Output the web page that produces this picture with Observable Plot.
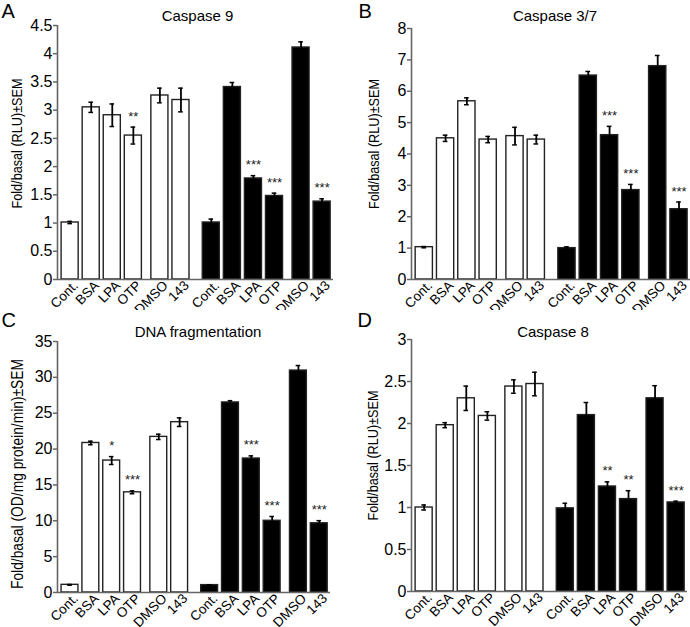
<!DOCTYPE html>
<html>
<head>
<meta charset="utf-8">
<script src="https://cdn.jsdelivr.net/npm/d3@7"></script>
<script src="https://cdn.jsdelivr.net/npm/@observablehq/plot@0.6"></script>
<style>
  html, body { margin: 0; padding: 0; background: #fff; }
  #grid { position: relative; width: 690px; height: 627px; overflow: hidden; font-family: "Liberation Sans", Arial, Helvetica, sans-serif; }
  .panel { position: absolute; }
</style>
</head>
<body>
<div id="grid"></div>
<script>
// ---------- data ----------
const treatments = ["Cont.", "BSA", "LPA", "OTP", "DMSO", "143"];
const groupFills = ["white", "black"];

const panelLetters = ["A", "B", "C", "D"];
const panelTitles = ["Caspase 9", "Caspase 3/7", "DNA fragmentation", "Caspase 8"];
const yLabels = [
  "Fold/basal (RLU)±SEM",
  "Fold/basal (RLU)±SEM",
  "Fold/basal (OD/mg protein/min)±SEM",
  "Fold/basal (RLU)±SEM"
];

// Caspase 9 (white group then black group)
const casp9Mean = [1.01, 3.05, 2.91, 2.55, 3.26, 3.18, 1.01, 3.41, 1.79, 1.48, 4.11, 1.38];
const casp9Sem  = [0.02, 0.09, 0.20, 0.15, 0.13, 0.21, 0.06, 0.08, 0.05, 0.05, 0.10, 0.05];
const casp9Sig  = ["", "", "", "**", "", "", "", "", "***", "***", "", "***"];
const casp9Ticks = [0, 0.5, 1, 1.5, 2, 2.5, 3, 3.5, 4, 4.5];

// Caspase 3/7
const casp37Mean = [1.03, 4.50, 5.68, 4.46, 4.57, 4.46, 1.00, 6.50, 4.60, 2.85, 6.80, 2.24];
const casp37Sem  = [0.02, 0.10, 0.11, 0.10, 0.28, 0.14, 0.04, 0.13, 0.28, 0.18, 0.34, 0.23];
const casp37Sig  = ["", "", "", "", "", "", "", "", "***", "***", "", "***"];
const casp37Ticks = [0, 1, 2, 3, 4, 5, 6, 7, 8];

// DNA fragmentation
const dnaMean = [1.07, 20.85, 18.40, 13.97, 21.70, 23.75, 1.03, 26.50, 18.68, 10.00, 30.95, 9.65];
const dnaSem  = [0.05, 0.25, 0.55, 0.20, 0.37, 0.60, 0.05, 0.25, 0.37, 0.60, 0.70, 0.37];
const dnaSig  = ["", "", "*", "***", "", "", "", "", "***", "***", "", "***"];
const dnaTicks = [0, 5, 10, 15, 20, 25, 30, 35];

// Caspase 8
const casp8Mean = [1.00, 1.98, 2.30, 2.09, 2.44, 2.47, 0.99, 2.10, 1.25, 1.10, 2.30, 1.06];
const casp8Sem  = [0.03, 0.03, 0.145, 0.05, 0.08, 0.14, 0.06, 0.15, 0.055, 0.10, 0.15, 0.015];
const casp8Sig  = ["", "", "", "", "", "", "", "", "**", "**", "", "***"];
const casp8Ticks = [0, 0.5, 1, 1.5, 2, 2.5, 3];

// ---------- layout ----------
// slot positions: gap after OTP within each group, larger gap between groups
const slot = [];
{
  let p = 0;
  for (let g = 0; g < groupFills.length; g++) {
    for (let t = 0; t < treatments.length; t++) {
      slot.push(p);
      p += 1;
      if (t === 3) p += 0.26;
    }
    p += 0.44;
  }
}
const xDomain = [-0.6, 12.5];
const halfBar = 0.405;
const capHalf = 0.11;
const FONT = "Liberation Sans, Arial, Helvetica, sans-serif";

function drawPanel(cfg) {
  const rows = slot.map((pos, i) => ({
    pos,
    label: treatments[i % treatments.length],
    fill: groupFills[Math.floor(i / treatments.length)],
    mean: cfg.mean[i],
    sem: cfg.sem[i],
    sig: cfg.sig[i]
  }));
  const yMax = cfg.ticks[cfg.ticks.length - 1];
  const svg = Plot.plot({
    width: 345,
    height: cfg.height,
    marginLeft: cfg.ml,
    marginRight: cfg.mr,
    marginTop: cfg.mt,
    marginBottom: cfg.mb,
    x: { type: "linear", domain: xDomain },
    y: { domain: [0, yMax] },
    color: { type: "identity" },
    style: { fontFamily: FONT, fontSize: "16px", color: "black", background: "white", overflow: "visible" },
    marks: [
      Plot.rectY(rows, {
        x1: d => d.pos - halfBar, x2: d => d.pos + halfBar,
        y1: 0, y2: "mean",
        fill: "fill", stroke: "#222", strokeWidth: 1.4
      }),
      Plot.ruleX(rows, { x: "pos", y1: d => d.mean - d.sem, y2: d => d.mean + d.sem, stroke: "black", strokeWidth: 1.8 }),
      Plot.ruleY(rows, { y: d => d.mean + d.sem, x1: d => d.pos - capHalf, x2: d => d.pos + capHalf, stroke: "black", strokeWidth: 1.5 }),
      Plot.ruleY(rows, { y: d => d.mean - d.sem, x1: d => d.pos - capHalf, x2: d => d.pos + capHalf, stroke: "black", strokeWidth: 1.5 }),
      Plot.text(rows.filter(d => d.sig), {
        x: "pos", y: d => d.mean + d.sem, text: "sig",
        lineAnchor: "bottom", dy: -6.5, fontSize: 13, fill: "#222"
      }),
      Plot.ruleY([0], { stroke: "#666", strokeWidth: 1.6 }),
      Plot.ruleX([xDomain[0]], { y1: 0, y2: yMax, stroke: "#666", strokeWidth: 1.6 }),
      Plot.axisY({
        ticks: cfg.ticks, tickFormat: d => String(d),
        tickSize: 4, tickPadding: 1, fontSize: 16,
        stroke: "#666", strokeWidth: 1.5, fill: "black", label: null
      }),
      Plot.axisX({
        ticks: slot, tickFormat: (d, i) => treatments[i % treatments.length],
        tickRotate: -45, tickSize: 0, tickPadding: 0, fontSize: 13.5, dx: 2,
        textAnchor: "end", lineAnchor: "top",
        fill: "black", label: null
      }),
      Plot.text([cfg.letter], {
        frameAnchor: "top-left", dx: cfg.letterDx, dy: cfg.letterDy,
        textAnchor: "start", lineAnchor: "top", fontSize: 20, fill: "black"
      }),
      Plot.text([cfg.title], {
        frameAnchor: "top", dx: cfg.titleDx, dy: cfg.titleDy,
        lineAnchor: "bottom", fontSize: 15, fill: "black"
      }),
      Plot.text([cfg.ylabel], {
        frameAnchor: "left", rotate: -90, dx: cfg.ylabDx, dy: cfg.ylabDy,
        textAnchor: "middle", lineAnchor: "middle",
        fontSize: cfg.ylabSize, fill: "black"
      })
    ]
  });
  // condense the y-axis title as in the original figure
  d3.select(svg).selectAll("text")
    .filter(function () { return this.textContent === cfg.ylabel; })
    .attr("textLength", cfg.ylabLen)
    .attr("lengthAdjust", "spacingAndGlyphs");
  const wrap = document.createElement("div");
  wrap.className = "panel";
  wrap.style.left = cfg.left + "px";
  wrap.style.top = cfg.top + "px";
  wrap.appendChild(svg);
  document.getElementById("grid").appendChild(wrap);
}

drawPanel({
  letter: panelLetters[0], title: panelTitles[0], ylabel: yLabels[0],
  mean: casp9Mean, sem: casp9Sem, sig: casp9Sig, ticks: casp9Ticks,
  left: 0, top: 0, height: 310, ml: 57, mr: 12, mt: 25, mb: 31,
  letterDx: -56, letterDy: -21.5, titleDx: 2, titleDy: -4.5,
  ylabDx: -40, ylabDy: -9, ylabSize: 15.5, ylabLen: 130
});
drawPanel({
  letter: panelLetters[1], title: panelTitles[1], ylabel: yLabels[1],
  mean: casp37Mean, sem: casp37Sem, sig: casp37Sig, ticks: casp37Ticks,
  left: 345, top: 0, height: 310, ml: 66, mr: 0, mt: 28, mb: 31,
  letterDx: -53, letterDy: -24.5, titleDx: 4, titleDy: -7.3,
  ylabDx: -37.5, ylabDy: -10, ylabSize: 15.5, ylabLen: 130
});
drawPanel({
  letter: panelLetters[2], title: panelTitles[2], ylabel: yLabels[2],
  mean: dnaMean, sem: dnaSem, sig: dnaSig, ticks: dnaTicks,
  left: 0, top: 310, height: 317, ml: 57, mr: 15, mt: 31, mb: 35,
  letterDx: -56, letterDy: -29, titleDx: 4, titleDy: -4.3,
  ylabDx: -39.5, ylabDy: 7, ylabSize: 16.5, ylabLen: 230
});
drawPanel({
  letter: panelLetters[3], title: panelTitles[3], ylabel: yLabels[3],
  mean: casp8Mean, sem: casp8Sem, sig: casp8Sig, ticks: casp8Ticks,
  left: 345, top: 310, height: 317, ml: 66, mr: 3, mt: 29, mb: 36,
  letterDx: -54, letterDy: -26.5, titleDx: 3.5, titleDy: -2.5,
  ylabDx: -38.5, ylabDy: -10, ylabSize: 15.5, ylabLen: 130
});
</script>
</body>
</html>
